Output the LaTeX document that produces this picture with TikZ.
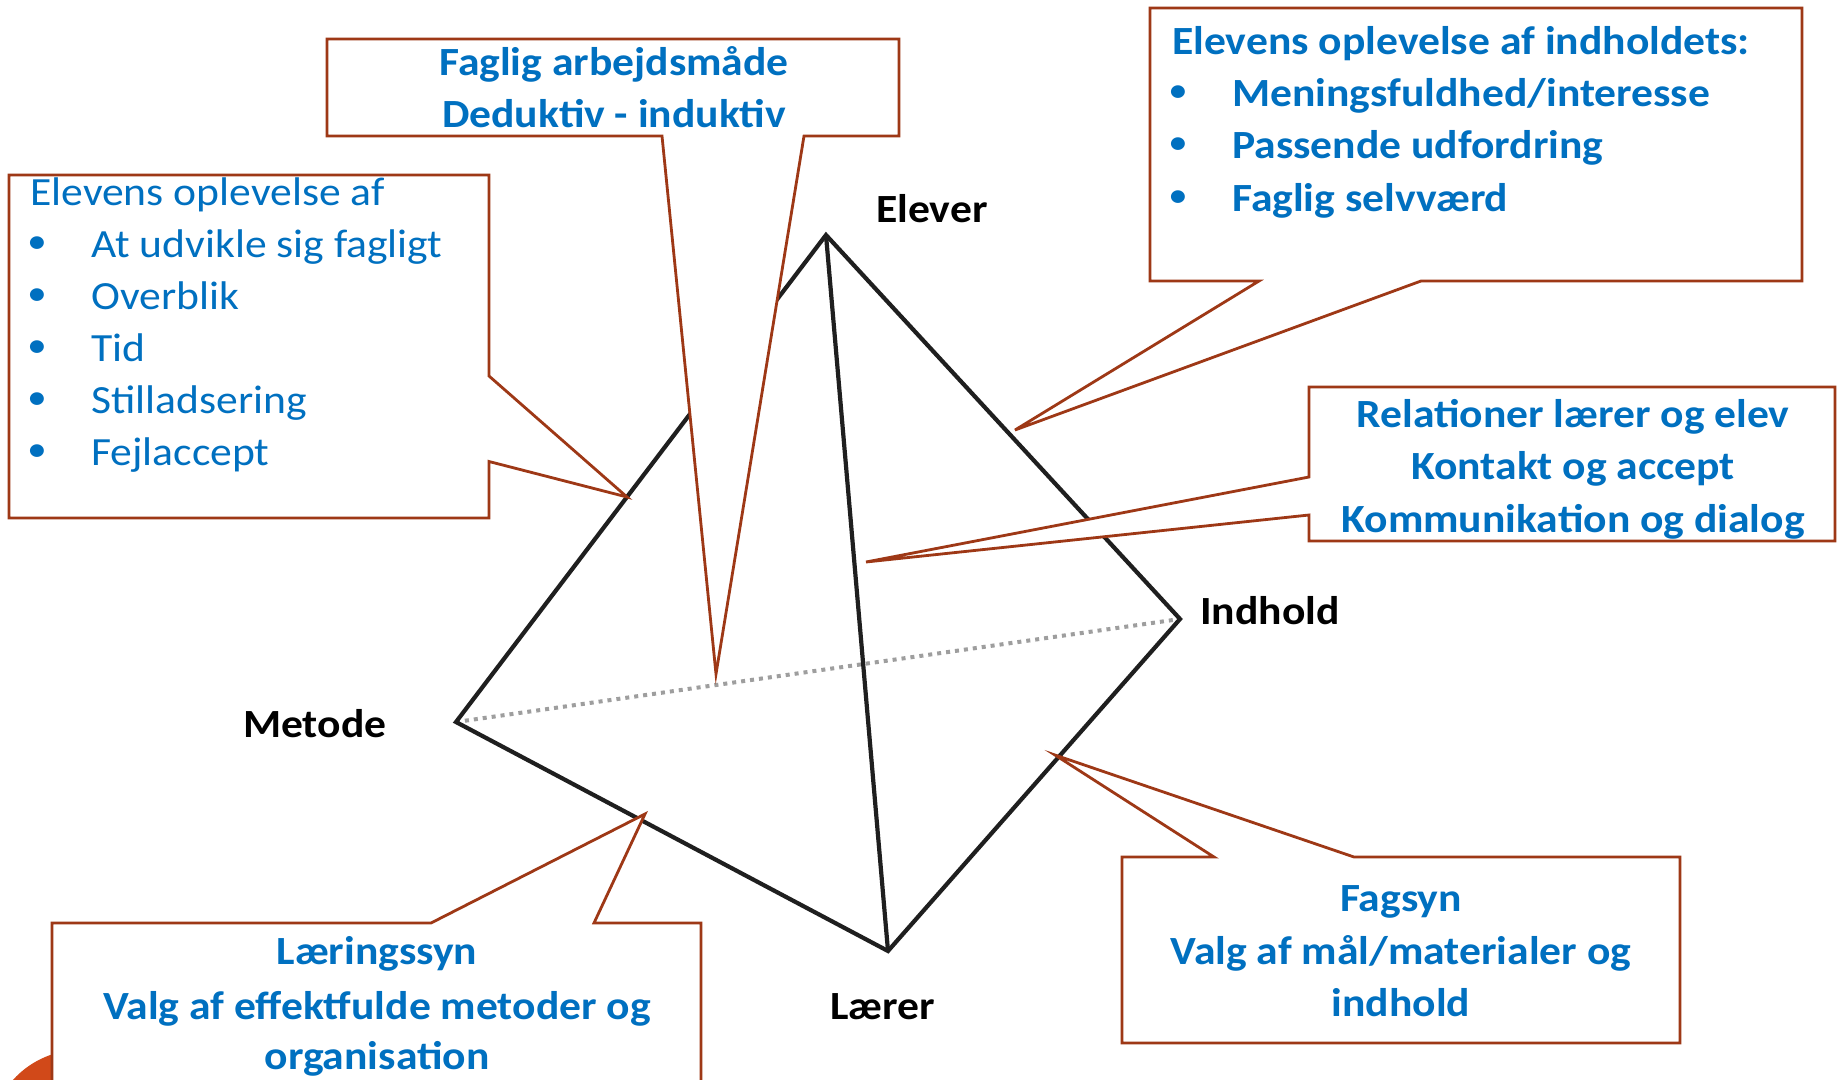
\documentclass[tikz,border=0pt]{standalone}
\usepackage{fontspec}
\setmainfont{Carlito}[FakeStretch=1.09]
\definecolor{txtblue}{RGB}{0,112,192}
\definecolor{brd}{RGB}{158,56,22}
\definecolor{orng}{RGB}{209,73,25}
\begin{document}
\begin{tikzpicture}[x=1pt,y=-1pt,
  edge/.style={line width=4.2pt,black!88,line join=miter},
  hidden/.style={line width=4pt,black!38,dash pattern=on 4pt off 5pt},
  callout/.style={draw=brd,fill=white,line width=2.8pt,line join=miter},
  vlabel/.style={font=\fontsize{40}{48}\selectfont\bfseries,text=black,inner sep=0pt,anchor=base west},
  btxt/.style={font=\fontsize{40}{48}\selectfont\bfseries,text=txtblue,inner sep=0pt,anchor=base},
  ltxt/.style={font=\fontsize{40}{48}\selectfont,text=txtblue,inner sep=0pt,anchor=base west},
  bltxt/.style={font=\fontsize{40}{48}\selectfont\bfseries,text=txtblue,inner sep=0pt,anchor=base west},
  bull/.style={font=\fontsize{30}{36}\selectfont\bfseries,text=txtblue,inner sep=0pt,anchor=center}]
\clip (0,0) rectangle (1839,1079);
\fill[white] (0,0) rectangle (1839,1079);
% decorative circle
\fill[orng] (80,1140) circle (90);
% tetrahedron
\coordinate (E) at (826,235);
\coordinate (M) at (456,722);
\coordinate (I) at (1180,619);
\coordinate (L) at (888,951);
\draw[hidden] (M) -- (I);
\draw[edge] (M) -- (E) -- (I) -- (L) -- cycle;
\draw[edge] (E) -- (L);
\node[vlabel] (lE) at (876,222) {Elever};
\node[vlabel] (lM) at (243,737) {Metode};
\node[vlabel] (lI) at (1200,624) {Indhold};
\node[vlabel] (lL) at (830,1019) {Lærer};
% callout: left
\draw[callout] (9,175) -- (489,175) -- (489,376) -- (627,497) -- (489,461.5) -- (489,518) -- (9,518) -- cycle;
\node[ltxt] (a0) at (30,205) {Elevens oplevelse af};
\foreach \t/\y [count=\i] in {{At udvikle sig fagligt}/257, {Overblik}/309, {Tid}/361, {Stilladsering}/413, {Fejlaccept}/465}{
  \node[bull] (ab\i) at (37,\y-13) {•};
  \node[ltxt] (a\i) at (91,\y) {\t};
}
% callout: Faglig arbejdsmaade
\draw[callout] (327,39) -- (899,39) -- (899,136) -- (804,136) -- (716,674) -- (662,136) -- (327,136) -- cycle;
\node[btxt] (f1) at (614,75) {Faglig arbejdsmåde};
\node[btxt] (f2) at (614,127) {Deduktiv - induktiv};
% callout: top right
\draw[callout] (1150,8) -- (1802,8) -- (1802,281) -- (1421,281) -- (1015,430) -- (1259,281) -- (1150,281) -- cycle;
\node[bltxt] (t0) at (1172,54) {Elevens oplevelse af indholdets:};
\foreach \t/\y [count=\i] in {{Meningsfuldhed/interesse}/106, {Passende udfordring}/158, {Faglig selvværd}/211}{
  \node[bull] (tb\i) at (1178,\y-13) {•};
  \node[bltxt] (t\i) at (1232,\y) {\t};
}
% callout: Relationer
\draw[callout] (1309,387) -- (1835,387) -- (1835,541) -- (1309,541) -- (1309,515) -- (866,562) -- (1309,477) -- cycle;
\node[btxt] (r1) at (1573,427) {Relationer lærer og elev};
\node[btxt] (r2) at (1573,479) {Kontakt og accept};
\node[btxt] (r3) at (1573,532) {Kommunikation og dialog};
% callout: Fagsyn
\draw[callout] (1122,857) -- (1214,857) -- (1055,755) -- (1354,857) -- (1680,857) -- (1680,1043) -- (1122,1043) -- cycle;
\node[btxt] (g1) at (1401,911) {Fagsyn};
\node[btxt] (g2) at (1401,964) {Valg af mål/materialer og};
\node[btxt] (g3) at (1401,1016) {indhold};
% callout: Laeringssyn
\draw[callout] (52,923) -- (431,923) -- (645,814) -- (594,923) -- (701,923) -- (701,1100) -- (52,1100) -- cycle;
\node[btxt] (s1) at (377,964) {Læringssyn};
\node[btxt] (s2) at (377,1019) {Valg af effektfulde metoder og};
\node[btxt] (s3) at (377,1069) {organisation};
\end{tikzpicture}
\end{document}
